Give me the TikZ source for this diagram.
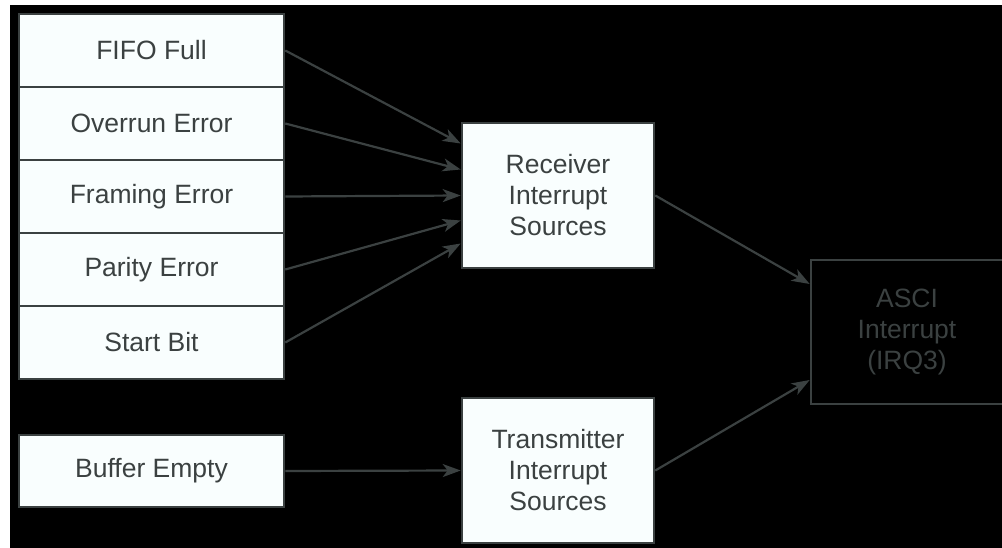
\documentclass[tikz,border=0pt]{standalone}
\usepackage{fontspec}
\setmainfont{Liberation Sans}
\usetikzlibrary{arrows.meta,calc}
\definecolor{ink}{HTML}{3B4141}
\definecolor{paper}{HTML}{F9FEFE}
\begin{document}
\begin{tikzpicture}[x=1pt,y=-1pt,
  box/.style={draw=ink, line width=2.6pt, fill=paper, text=ink, align=center,
    font=\fontsize{26.5}{31}\selectfont, inner sep=0pt},
  cell/.style={box, minimum width=265pt, minimum height=73pt},
  block/.style={box, minimum width=192pt, minimum height=145pt},
  conn/.style={draw=ink, line width=2.2pt, -{Stealth[length=18pt,width=13pt,inset=5pt]}}]
\useasboundingbox (0,0) rectangle (1002,548);
\fill[white] (0,0) rectangle (1002,548);
\fill[black] (10,5) rectangle (1002,548);

% input stack
\node[cell] (fifo)   at (151.5,50.5)  {FIFO Full};
\node[cell] (over)   at (151.5,123.5) {Overrun Error};
\node[cell] (frame)  at (151.5,196.5) {Framing Error};
\node[cell] (parity) at (151.5,269.5) {Parity Error};
\node[cell] (start)  at (151.5,342.5) {Start Bit};
\node[cell, minimum height=72pt] (buf) at (151.5,471) {Buffer Empty};

% sources
\node[block] (rx) at (558,195.5) {Receiver\\Interrupt\\Sources};
\node[block] (tx) at (558,470.5) {Transmitter\\Interrupt\\Sources};

% target
\node[box, fill=none, minimum width=192pt, minimum height=144pt] (asci) at (907,332) {ASCI\\Interrupt\\(IRQ3)};

% arrow end points
\coordinate (r1) at ($(rx.west)+(0,-52)$);
\coordinate (r2) at ($(rx.west)+(0,-26)$);
\coordinate (r3) at (rx.west);
\coordinate (r4) at ($(rx.west)+(0,25)$);
\coordinate (r5) at ($(rx.west)+(0,48)$);
\coordinate (a1) at ($(asci.west)+(0,-48)$);
\coordinate (a2) at ($(asci.west)+(0,48)$);

\draw[conn] (fifo.east) -- (r1);
\draw[conn] (over.east) -- (r2);
\draw[conn] (frame.east) -- (r3);
\draw[conn] (parity.east) -- (r4);
\draw[conn] (start.east) -- (r5);
\draw[conn] (buf.east) -- (tx.west);
\draw[conn] (rx.east) -- (a1);
\draw[conn] (tx.east) -- (a2);
\end{tikzpicture}
\end{document}
